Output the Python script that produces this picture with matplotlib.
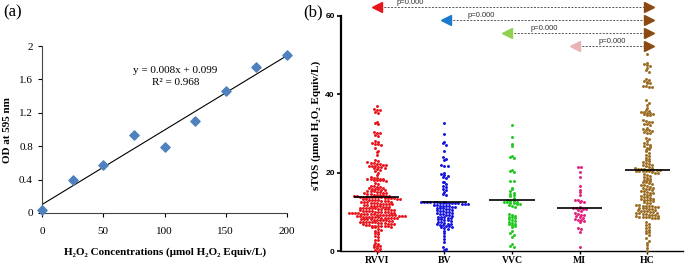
import numpy as np
import matplotlib
matplotlib.use("Agg")
import matplotlib.pyplot as plt

# ---------------- data ----------------
conc = [0, 25, 50, 75, 100, 125, 150, 175, 200]
od = [0.04, 0.40, 0.58, 0.93, 0.79, 1.10, 1.46, 1.75, 1.89]

groups = ["RVVI", "BV", "VVC", "MI", "HC"]

rvvi = [37.0, 36.3, 36.1, 36.0, 35.4, 35.1, 33.0, 32.6, 32.4,
        30.5, 30.2, 30.0, 29.6, 29.4, 28.2, 27.8, 27.6, 27.4, 27.2, 27.0, 26.2, 25.6, 25.3, 24.4,
        23.1, 22.9, 22.6, 22.5, 22.4, 22.3, 22.1, 22.0, 22.0, 21.8, 21.7, 21.6, 21.5, 21.4, 21.3,
        21.2, 21.0, 20.8, 20.5,
        19.8, 19.5, 18.9, 18.7, 18.6, 18.5, 18.4, 18.3, 18.3, 18.2, 18.1, 18.0, 18.0, 17.9,
        17.4, 17.2,
        16.6, 16.5, 16.4, 16.3, 16.2, 16.0, 15.9, 15.8, 15.7, 15.6, 15.5, 15.4, 15.3, 15.2,
        15.1, 15.0, 14.9, 14.8, 14.7, 14.6, 14.5,
        14.4, 14.3, 14.2, 14.2, 14.1, 14.1, 14.0, 14.0, 13.9, 13.9, 13.9, 13.8, 13.8, 13.7,
        13.7, 13.7, 13.6, 13.6, 13.5, 13.5, 13.4, 13.4, 13.3, 13.2, 13.1, 13.0,
        12.9, 12.9, 12.8, 12.7, 12.7, 12.6, 12.5, 12.5, 12.4, 12.3, 12.3, 12.2, 12.1, 12.1,
        12.0, 12.0, 11.9, 11.8,
        11.7, 11.6, 11.5, 11.5, 11.4, 11.3, 11.3, 11.2, 11.1, 11.1, 11.0, 11.0, 10.9, 10.9,
        10.8, 10.7, 10.7, 10.6, 10.5, 10.5, 10.4,
        10.3, 10.2, 10.2, 10.1, 10.0, 10.0, 10.0, 9.9, 9.9, 9.8, 9.8, 9.7, 9.7, 9.6, 9.6,
        9.5, 9.5, 9.5, 9.4, 9.4, 9.3, 9.3, 9.3, 9.2, 9.2, 9.1, 9.1, 9.0, 9.0, 9.0, 8.9, 8.9,
        8.8, 8.8, 8.7, 8.7, 8.6, 8.6, 8.5, 8.5, 8.4, 8.4, 8.3, 8.3, 8.2, 8.2, 8.1, 8.1, 8.0,
        8.0, 7.9, 7.9, 7.8, 7.7,
        7.6, 7.5, 7.5, 7.4, 7.3, 7.3, 7.3, 7.2, 7.1, 7.1, 7.0, 6.9, 6.9, 6.8, 6.7,
        6.6, 6.5, 6.5, 6.5, 6.4, 6.3, 6.3, 6.2, 6.1, 6.0,
        5.6, 5.4, 5.2, 4.9, 4.6, 4.3, 3.8, 3.5, 2.9, 2.7, 2.1, 1.9, 1.6, 1.4, 1.2, 1.0,
        0.7, 0.5, 0.2, 0.0]

bv = [32.6, 29.8, 27.9, 27.5, 27.0, 25.5, 24.0, 23.6, 23.2, 21.9, 21.8, 21.6,
      19.9, 19.6, 19.5, 19.2, 18.8, 18.6, 17.7, 17.5, 17.2, 16.6, 16.4, 15.8, 15.6, 15.0,
      14.6, 14.3,
      12.6, 12.5, 12.5, 12.4, 12.4, 12.4, 12.4, 12.3, 12.3, 12.3, 12.3, 12.2, 12.2, 12.2,
      12.1, 12.1, 12.0,
      11.8, 11.7, 11.6, 11.5, 11.4, 11.4, 11.3, 11.2, 11.1, 11.0, 11.0, 10.8, 10.6, 10.5,
      10.4, 10.3, 10.2, 10.0, 9.9, 9.8, 9.6, 9.5,
      9.4, 9.2, 9.1, 9.0, 8.8, 8.7, 8.6, 8.5, 8.4, 8.2, 8.1, 8.0, 7.8, 7.6, 7.5, 7.4, 7.2,
      7.0, 7.0, 6.8, 6.6, 6.6, 6.5, 6.3, 6.2, 6.0, 5.8, 5.5,
      5.0, 4.5, 3.8, 3.0, 2.2, 1.0, 0.6, 0.3]

vvc = [32.1, 29.2, 27.3, 26.8, 24.3, 24.1, 23.7, 20.7, 20.5, 20.1, 17.9, 17.8,
       16.2, 15.9, 15.3, 14.8, 14.5, 14.2, 14.0, 13.5,
       12.9, 12.8, 12.7, 12.6, 12.5, 12.4, 12.3, 12.2, 12.1, 11.9, 11.7, 11.5, 11.3,
       9.5, 9.3, 9.0, 8.8, 8.6, 8.3, 8.1, 7.9, 7.7, 7.4, 7.2, 7.0, 6.8, 6.6, 6.3, 6.1,
       5.0, 4.6, 4.1, 3.7, 1.8, 1.4, 1.1]

mi = [21.5, 21.4, 20.2, 19.0, 16.6, 15.6, 15.0, 14.3, 13.1, 12.9, 12.7, 12.6, 12.4,
      11.3, 11.1, 11.0, 10.9, 10.8, 10.6, 10.4, 10.2,
      9.7, 9.5, 9.3, 9.1, 8.9, 8.7, 8.5, 8.2, 8.0, 7.8, 7.6, 7.5, 5.9, 5.5, 4.9, 1.1]

hc = [50.4, 48.0, 47.8, 47.5, 47.2, 46.7, 46.2, 45.8, 43.9, 43.6, 43.4, 43.1, 42.9, 42.8,
      42.1, 42.0, 41.9, 41.8,
      38.5, 37.8, 37.2, 36.5, 36.0, 35.8, 35.6, 35.4, 35.3, 35.1, 35.0, 34.9, 34.8, 34.7,
      33.4, 33.2, 33.0, 32.8, 32.5, 32.3, 32.1, 31.4, 31.2, 31.0, 30.8, 30.6, 30.4, 30.2, 30.1,
      28.8, 28.5, 28.0, 27.6, 27.2, 26.8, 26.3, 25.8,
      27.0, 26.5, 26.0, 25.5, 25.0, 24.6, 24.2, 23.8, 23.5, 23.2, 22.9, 22.6, 22.4, 22.2,
      22.0, 21.9, 21.7, 21.5, 21.3, 21.2,
      21.0, 20.9, 20.9, 20.8, 20.8, 20.7, 20.7, 20.6, 20.5, 20.5, 20.4, 20.3, 20.3, 20.2,
      20.0, 19.8, 19.6,
      19.4, 19.1, 18.8, 18.6, 18.5, 18.2, 18.0, 17.8, 17.6, 17.5, 17.3, 17.0, 16.9, 16.8,
      16.6, 16.4, 16.2, 16.0, 15.9, 15.8, 15.6, 15.4, 15.2, 15.1,
      14.9, 14.8, 14.6, 14.4, 14.2, 14.0, 13.9, 13.8, 13.6, 13.4, 13.2, 13.1, 13.0, 12.9,
      12.7, 12.5, 12.3, 12.2,
      11.8, 11.7, 11.6, 11.5, 11.4, 11.4, 11.3, 11.2, 11.1, 11.0, 10.9, 10.8, 10.6, 10.5,
      10.4, 10.3, 10.2, 10.1, 10.0, 9.9, 9.8, 9.7, 9.6, 9.5, 9.4, 9.3, 9.2, 9.1, 9.0, 8.9,
      8.8, 8.8, 8.7, 8.6, 8.5, 8.5, 8.4,
      7.4, 7.0, 6.6, 6.2, 5.8, 5.4, 5.0, 4.8,
      4.6, 4.0, 3.2, 2.6, 2.0, 1.5, 0.8, 0.0]

group_values = [rvvi, bv, vvc, mi, hc]
group_means = [13.8, 12.4, 12.9, 10.9, 20.8]

# comparisons vs HC: (left group position, y level, label)
comp_from = [0, 1.03, 1.92, 2.93]
comp_y = [62.3, 59.0, 55.7, 52.3]
comp_label = ["p=0.000", "p=0.000", "p=0.000", "p=0.000"]

# ---------------- style ----------------
dot_colors = ["#e8141c", "#1414dc", "#1ec81e", "#e0207c", "#9b6b22"]
tri_colors = ["#e8141c", "#1a7acc", "#8fd14f", "#e8b4b8"]
tri_hc = "#8b4a12"
serif = ["Liberation Serif", "DejaVu Serif"]
sans = ["Liberation Sans", "DejaVu Sans"]

fig = plt.figure(figsize=(6.85, 2.64), dpi=100)

# ---------------- panel (a) ----------------
axA = fig.add_axes([42 / 685, 51 / 264, 245 / 685, 167 / 264])
axA.scatter(conc, od, marker="D", s=22, color="#4f81bd", zorder=3, clip_on=False)
slope, icpt = np.polyfit(conc, od, 1)
xx = np.array([min(conc), max(conc)])
axA.plot(xx, slope * xx + icpt, color="black", lw=0.8, zorder=2)
axA.set_xlim(0, 200)
axA.set_ylim(0, 2)
axA.set_xticks([0, 50, 100, 150, 200])
axA.set_yticks([0, 0.4, 0.8, 1.2, 1.6, 2.0])
axA.set_yticklabels(["0", "0.4", "0.8", "1.2", "1.6", "2"])
for s in ["top", "right"]:
    axA.spines[s].set_visible(False)
for s in ["left", "bottom"]:
    axA.spines[s].set_linewidth(0.8)
    axA.spines[s].set_color("#444444")
axA.tick_params(axis="both", length=3, width=0.8, direction="out", labelsize=8)
axA.tick_params(axis="x", pad=7)
for lab in axA.get_xticklabels() + axA.get_yticklabels():
    lab.set_family(serif)
axA.text(109, 1.71, "y = 0.008x + 0.099", ha="center", va="center", fontsize=8, family=serif)
axA.text(109, 1.56, "R\u00b2 = 0.968", ha="center", va="center", fontsize=8, family=serif)
fig.text(8 / 685, 1 - 130 / 264, "OD at 595 nm", rotation=90, ha="center", va="center",
         fontsize=8, fontweight="bold", family=serif)
fig.text(165 / 685, 1 - 252 / 264, "H\u2082O\u2082 Concentrations (\u03bcmol H\u2082O\u2082 Equiv/L)",
         ha="center", va="center", fontsize=8, fontweight="bold", family=serif)
fig.text(3 / 685, 1 - 12 / 264, "(a)", ha="left", va="center", fontsize=12, family=serif)

# ---------------- panel (b) ----------------
axB = fig.add_axes([341 / 685, 13 / 264, 342 / 685, 248 / 264])
axB.set_xlim(-0.53, 4.53)
axB.set_ylim(0, 63.3)

binh = 0.72
dx = 0.046


def swarm_x(vals, center):
    vals = np.asarray(vals, dtype=float)
    rows = np.floor(vals / binh + 0.5).astype(int)
    xs = np.zeros(len(vals))
    for r in np.unique(rows):
        idx = np.where(rows == r)[0]
        n = len(idx)
        xs[idx] = center + (np.arange(n) - (n - 1) / 2) * dx
    return xs


for i, (vals, col) in enumerate(zip(group_values, dot_colors)):
    xs = swarm_x(vals, i)
    axB.scatter(xs, vals, s=4.5, color=col, linewidths=0, zorder=3, clip_on=False)
    axB.plot([i - 0.335, i + 0.335], [group_means[i], group_means[i]], color="black",
             lw=1.2, zorder=4, solid_capstyle="butt")

text_dx = [0.49, 0.51, 0.56, 0.55]
for xf, yv, lab, tc, tdx in zip(comp_from, comp_y, comp_label, tri_colors, text_dx):
    axB.plot([xf, 4], [yv, yv], color="#555555", lw=0.7, ls=(0, (2, 1.5)), zorder=2)
    axB.plot([xf], [yv], marker="<", color=tc, markersize=6.5, zorder=3, clip_on=False)
    axB.plot([4.02], [yv], marker=">", color=tri_hc, markersize=6.5, zorder=3, clip_on=False)
    axB.text(xf + tdx, yv + 1.1, lab, ha="center", va="center", fontsize=5.5,
             family=sans, color="#333333")

axB.spines["top"].set_visible(False)
axB.spines["right"].set_visible(False)
axB.spines["left"].set_bounds(0, 60)
axB.spines["left"].set_linewidth(1.6)
axB.spines["bottom"].set_linewidth(1.0)
axB.set_yticks([0, 20, 40, 60])
axB.set_xticks(range(len(groups)))
axB.set_xticklabels(groups)
axB.tick_params(axis="y", length=3, width=1.2, labelsize=6, pad=1.5)
axB.tick_params(axis="x", length=2.5, width=1.0, labelsize=7, pad=1)
for lab in axB.get_yticklabels():
    lab.set_family(sans)
    lab.set_fontweight("bold")
for lab in axB.get_xticklabels():
    lab.set_family(serif)
    lab.set_fontweight("bold")
fig.text(316 / 685, 1 - 125 / 264, "sTOS (\u03bcmol H\u2082O\u2082 Equiv/L)", rotation=90,
         ha="center", va="center", fontsize=8, fontweight="bold", family=serif)
fig.text(303 / 685, 1 - 12 / 264, "(b)", ha="left", va="center", fontsize=12, family=serif)

fig.savefig("out.png", dpi=100)
